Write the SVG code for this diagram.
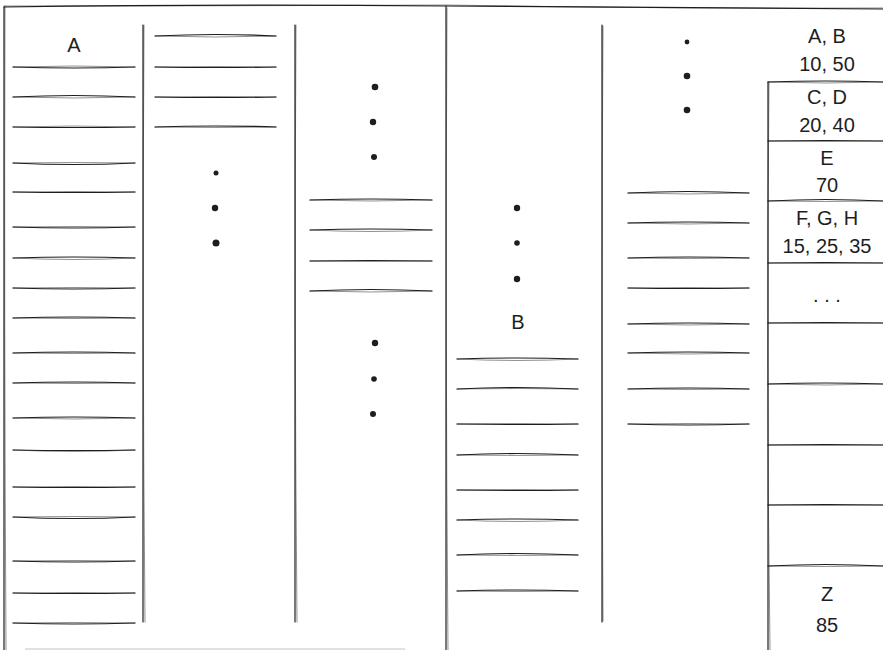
<svg xmlns="http://www.w3.org/2000/svg" width="883" height="650" viewBox="0 0 883 650">
<style>
.s{fill:none;stroke:#1e1e1e;stroke-width:1.2;stroke-linecap:round}
.t{fill:none;stroke:#1e1e1e;stroke-width:0.7;stroke-linecap:round;opacity:0.7}
.f{fill:none;stroke:#888;stroke-width:1;opacity:0.5}
.d{fill:#1e1e1e}
text{font-family:"Liberation Sans","DejaVu Sans",sans-serif;font-size:20px;fill:#1e1e1e;text-anchor:middle}
</style>
<rect width="883" height="650" fill="#fff"/>
<g id="frames">
<path class="s" d="M4 7 Q220 4 446 6 Q660 7 883 9"/>
<path class="t" d="M4 6 Q230 6 446 5 Q670 9 883 8"/>
<path class="s" d="M4 7 Q5 330 4 650"/>
<path class="t" d="M5 6 Q4 320 6 650"/>
<path class="s" d="M446 6 Q447 330 446 650"/>
<path class="t" d="M447 8 Q445 320 448 650"/>
<path class="f" d="M25 649 L405 649"/>
</g>
<g id="dividers">
<path class="s" d="M143 25 Q144 320 143 622"/><path class="t" d="M144 25 Q142 320 145 622"/>
<path class="s" d="M295 25 Q296 320 295 622"/><path class="t" d="M296 25 Q294 320 297 622"/>
<path class="s" d="M602 25 Q603 320 602 622"/><path class="t" d="M603 26 Q601 320 603 621"/>
</g>
<g id="col-a">
<text x="74" y="52">A</text>
<g id="col-a-lines">
<path class="s" d="M13 67 Q74 69 135 67"/><path class="t" d="M13 67 Q74 65 135 67"/>
<path class="s" d="M13 97 Q74 94 135 97"/><path class="t" d="M13 97 Q74 99 135 97"/>
<path class="s" d="M13 127 Q74 128 135 127"/><path class="t" d="M13 127 Q74 125 135 127"/>
<path class="s" d="M13 163 Q74 166 135 163"/><path class="t" d="M13 163 Q74 162 135 163"/>
<path class="s" d="M13 192 Q74 193 135 192"/><path class="t" d="M13 192 Q74 191 135 192"/>
<path class="s" d="M13 227 Q74 229 135 227"/><path class="t" d="M13 227 Q74 226 135 227"/>
<path class="s" d="M13 258 Q74 256 135 258"/><path class="t" d="M13 258 Q74 261 135 258"/>
<path class="s" d="M13 288 Q74 290 135 288"/><path class="t" d="M13 288 Q74 287 135 288"/>
<path class="s" d="M13 318 Q74 316 135 318"/><path class="t" d="M13 318 Q74 319 135 318"/>
<path class="s" d="M13 353 Q74 351 135 353"/><path class="t" d="M13 353 Q74 354 135 353"/>
<path class="s" d="M13 383 Q74 381 135 383"/><path class="t" d="M13 383 Q74 384 135 383"/>
<path class="s" d="M13 418 Q74 416 135 418"/><path class="t" d="M13 418 Q74 420 135 418"/>
<path class="s" d="M13 450 Q74 451 135 450"/><path class="t" d="M13 450 Q74 453 135 450"/>
<path class="s" d="M13 487 Q74 488 135 487"/><path class="t" d="M13 487 Q74 486 135 487"/>
<path class="s" d="M13 517 Q74 520 135 517"/><path class="t" d="M13 517 Q74 516 135 517"/>
<path class="s" d="M13 561 Q74 563 135 561"/><path class="t" d="M13 561 Q74 560 135 561"/>
<path class="s" d="M13 593 Q74 594 135 593"/><path class="t" d="M13 593 Q74 592 135 593"/>
<path class="s" d="M13 623 Q74 625 135 623"/><path class="t" d="M13 623 Q74 622 135 623"/>
</g>
</g>
<g id="col-2">
<path class="s" d="M155 36 Q215 33 276 36"/><path class="t" d="M155 36 Q215 38 276 36"/>
<path class="s" d="M155 67 Q215 68 276 67"/><path class="t" d="M155 67 Q215 66 276 67"/>
<path class="s" d="M155 97 Q215 98 276 97"/><path class="t" d="M155 97 Q215 96 276 97"/>
<path class="s" d="M155 127 Q215 125 276 127"/><path class="t" d="M155 127 Q215 128 276 127"/>
<circle class="d" cx="216" cy="173" r="2.5"/>
<circle class="d" cx="215" cy="208" r="3.2"/>
<circle class="d" cx="216" cy="243" r="3.5"/>
</g>
<g id="col-3">
<circle class="d" cx="375" cy="87" r="3.3"/>
<circle class="d" cx="373" cy="122" r="3.2"/>
<circle class="d" cx="374" cy="157" r="3"/>
<path class="s" d="M310 200 Q371 198 432 200"/><path class="t" d="M310 200 Q371 202 432 200"/>
<path class="s" d="M310 230 Q371 228 432 230"/><path class="t" d="M310 230 Q371 233 432 230"/>
<path class="s" d="M310 261 Q371 260 432 261"/><path class="t" d="M310 261 Q371 262 432 261"/>
<path class="s" d="M310 291 Q371 288 432 291"/><path class="t" d="M310 291 Q371 293 432 291"/>
<circle class="d" cx="375" cy="343" r="3.2"/>
<circle class="d" cx="374" cy="379" r="2.8"/>
<circle class="d" cx="373" cy="414" r="3"/>
</g>
<g id="col-b">
<circle class="d" cx="517" cy="208" r="3.2"/>
<circle class="d" cx="517" cy="243" r="2.8"/>
<circle class="d" cx="517" cy="279" r="3.2"/>
<text x="518" y="329">B</text>
<path class="s" d="M457 359 Q517 357 578 359"/><path class="t" d="M457 359 Q517 362 578 359"/>
<path class="s" d="M457 389 Q517 386 578 389"/><path class="t" d="M457 389 Q517 388 578 389"/>
<path class="s" d="M457 424 Q517 425 578 424"/><path class="t" d="M457 424 Q517 423 578 424"/>
<path class="s" d="M457 455 Q517 452 578 455"/><path class="t" d="M457 455 Q517 456 578 455"/>
<path class="s" d="M457 490 Q517 491 578 490"/><path class="t" d="M457 490 Q517 489 578 490"/>
<path class="s" d="M457 520 Q517 518 578 520"/><path class="t" d="M457 520 Q517 523 578 520"/>
<path class="s" d="M457 555 Q517 552 578 555"/><path class="t" d="M457 555 Q517 556 578 555"/>
<path class="s" d="M457 591 Q517 589 578 591"/><path class="t" d="M457 591 Q517 592 578 591"/>
</g>
<g id="col-5">
<circle class="d" cx="687" cy="42" r="2.4"/>
<circle class="d" cx="687" cy="76" r="3.3"/>
<circle class="d" cx="687" cy="110" r="3.3"/>
<path class="s" d="M628 193 Q688 190 749 193"/><path class="t" d="M628 193 Q688 195 749 193"/>
<path class="s" d="M628 223 Q688 221 749 223"/><path class="t" d="M628 223 Q688 225 749 223"/>
<path class="s" d="M628 258 Q688 256 749 258"/><path class="t" d="M628 258 Q688 259 749 258"/>
<path class="s" d="M628 288 Q688 289 749 288"/><path class="t" d="M628 288 Q688 287 749 288"/>
<path class="s" d="M628 324 Q688 322 749 324"/><path class="t" d="M628 324 Q688 326 749 324"/>
<path class="s" d="M628 353 Q688 351 749 353"/><path class="t" d="M628 353 Q688 355 749 353"/>
<path class="s" d="M628 389 Q688 387 749 389"/><path class="t" d="M628 389 Q688 390 749 389"/>
<path class="s" d="M628 424 Q688 426 749 424"/><path class="t" d="M628 424 Q688 423 749 424"/>
</g>
<g id="table">
<text x="827" y="43">A, B</text>
<text x="827" y="71">10, 50</text>
<path class="s" d="M768 82 Q767 370 768 650"/><path class="t" d="M769 82 Q766 360 770 650"/>
<path class="s" d="M768 82 Q826 80 883 82"/><path class="t" d="M768 82 Q826 84 883 82"/>
<text x="827" y="104">C, D</text>
<text x="827" y="132">20, 40</text>
<path class="s" d="M768 141 Q826 140 883 141"/><path class="t" d="M768 141 Q826 142 883 141"/>
<text x="827" y="165">E</text>
<text x="827" y="192">70</text>
<path class="s" d="M768 201 Q826 198 883 201"/><path class="t" d="M768 201 Q826 202 883 201"/>
<text x="827" y="225">F, G, H</text>
<text x="827" y="253">15, 25, 35</text>
<path class="s" d="M768 263 Q826 262 883 263"/><path class="t" d="M768 263 Q826 264 883 263"/>
<text x="827" y="302">. . .</text>
<path class="s" d="M768 323 Q826 322 883 323"/><path class="t" d="M768 323 Q826 324 883 323"/>
<path class="s" d="M768 384 Q826 382 883 384"/><path class="t" d="M768 384 Q826 386 883 384"/>
<path class="s" d="M768 445 Q826 444 883 445"/><path class="t" d="M768 445 Q826 446 883 445"/>
<path class="s" d="M768 505 Q826 504 883 505"/><path class="t" d="M768 505 Q826 506 883 505"/>
<path class="s" d="M768 566 Q826 563 883 566"/><path class="t" d="M768 566 Q826 567 883 566"/>
<text x="827" y="601">Z</text>
<text x="827" y="632">85</text>
</g>
<g id="connectors"/>
</svg>
